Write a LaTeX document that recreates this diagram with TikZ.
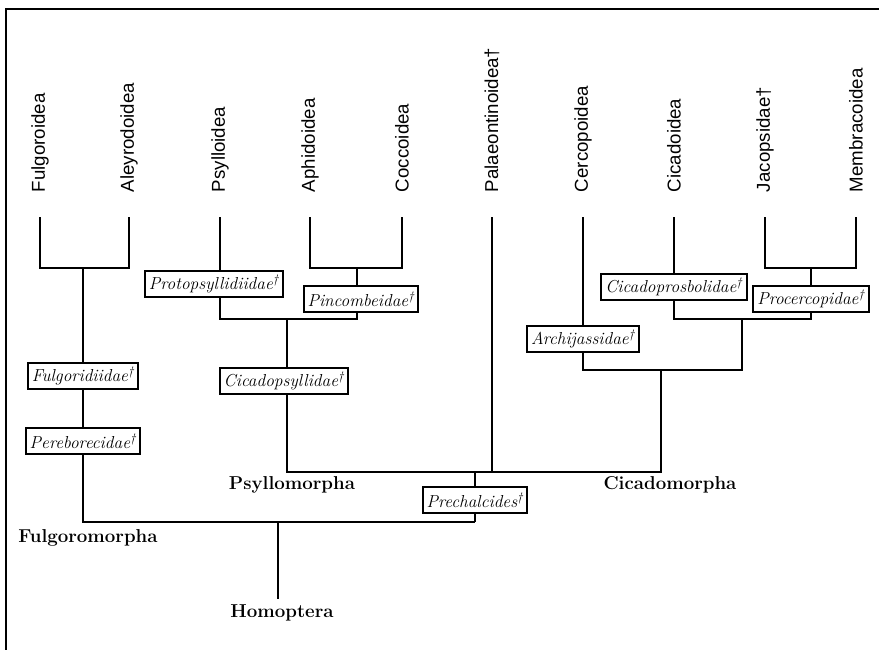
\documentclass[tikz,border=0pt]{standalone}
\usepackage{fontspec}
\newfontfamily\leaffont{Liberation Sans}
\begin{document}
\begin{tikzpicture}[x=0.75pt,y=-0.75pt,line width=1.5pt,
    leaf/.style={rotate=90,anchor=west,inner sep=0pt,font=\leaffont\fontsize{14}{16}\selectfont},
    fam/.style={draw,fill=white,inner xsep=3pt,inner ysep=0pt,minimum height=20pt,font=\itshape\fontsize{13}{15}\selectfont},
    group/.style={font=\bfseries\fontsize{14}{16}\selectfont}]
  \useasboundingbox (0,0) rectangle (879,650);
  \draw (6,650) -- (6,9) -- (879,9);
  \draw
    (40,193) node[leaf] (t1){Fulgoroidea}
    (129,193) node[leaf] (t2){Aleyrodoidea}
    (220,193) node[leaf] (t3){Psylloidea}
    (310,193) node[leaf] (t4){Aphidoidea}
    (402,193) node[leaf] (t5){Coccoidea}
    (492,193) node[leaf] (t6){Palaeontinoidea†}
    (583,193) node[leaf] (t7){Cercopoidea}
    (674,193) node[leaf] (t8){Cicadoidea}
    (765,193) node[leaf] (t9){Jacopsidae†}
    (856,193) node[leaf] (t10){Membracoidea};
  \coordinate (l1) at (40,217);
  \coordinate (l2) at (129,217);
  \coordinate (l3) at (220,217);
  \coordinate (l4) at (310,217);
  \coordinate (l5) at (402,217);
  \coordinate (l6) at (492,217);
  \coordinate (l7) at (583,217);
  \coordinate (l8) at (674,217);
  \coordinate (l9) at (765,217);
  \coordinate (l10) at (856,217);
  \coordinate (j1) at (83,268);
  \coordinate (j2) at (357,268);
  \coordinate (j3) at (287,319);
  \coordinate (j5) at (475,472);
  \coordinate (j6) at (811,268);
  \coordinate (j7) at (742,319);
  \coordinate (j8) at (661,370);
  \coordinate (p) at (475,522);
  \coordinate (h) at (278,522);
  \coordinate (hb) at (278,599);
  \draw
    (83,376) node[fam] (b1){Fulgoridiidae\textsuperscript{†}}
    (83,441) node[fam] (b2){Pereborecidae\textsuperscript{†}}
    (214,284) node[fam] (b3){Protopsyllidiidae\textsuperscript{†}}
    (361,299) node[fam] (b4){Pincombeidae\textsuperscript{†}}
    (284,381) node[fam] (b5){Cicadopsyllidae\textsuperscript{†}}
    (583,339) node[fam] (b6){Archijassidae\textsuperscript{†}}
    (674,287) node[fam] (b7){Cicadoprosbolidae\textsuperscript{†}}
    (811,299) node[fam] (b8){Procercopidae\textsuperscript{†}}
    (475,500) node[fam] (b9){Prechalcides\textsuperscript{†}};
  \begin{scope}
    \draw (l1) |- (j1) -| (l2);
    \draw (j1) -- (b1);
    \draw (b1) -- (b2);
    \draw (b2) |- (p);
    \draw (l3) -- (l3 |- b3.north);
    \draw (l3 |- b3.south) |- (j3);
    \draw (l4) |- (j2) -| (l5);
    \draw (j2) -- (j2 |- b4.north);
    \draw (j2 |- b4.south) |- (j3);
    \draw (j3) -- (j3 |- b5.north);
    \draw (j3 |- b5.south) |- (j5);
    \draw (l6) -- (l6 |- j5);
    \draw (l7) -- (b6);
    \draw (b6) |- (j8);
    \draw (l8) -- (b7);
    \draw (b7) |- (j7);
    \draw (l9) |- (j6) -| (l10);
    \draw (j6) -- (b8);
    \draw (b8) |- (j7);
    \draw (j7) |- (j8);
    \draw (j8) |- (j5);
    \draw (j5) -- (b9);
    \draw (b9) -- (p);
    \draw (h) -- (hb);
  \end{scope}
  \draw
    (292,485) node[group] (g1){Psyllomorpha}
    (670,485) node[group] (g2){Cicadomorpha}
    (88,538) node[group] (g3){Fulgoromorpha}
    (282,613) node[group] (g4){Homoptera};
\end{tikzpicture}
\end{document}
